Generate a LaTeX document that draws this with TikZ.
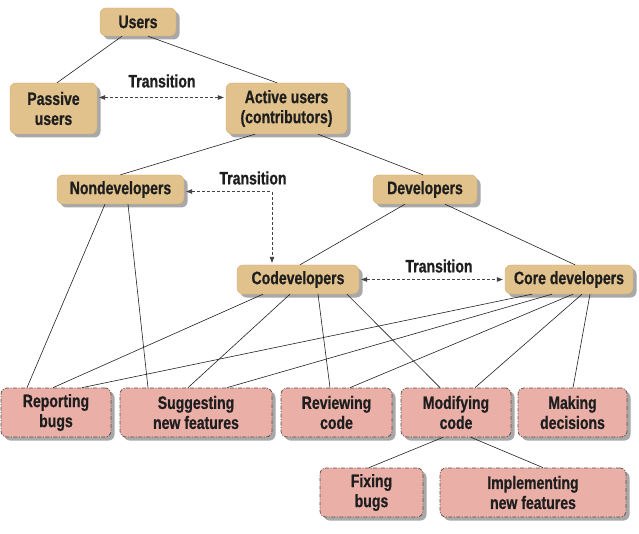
\documentclass[tikz,border=0pt]{standalone}
\usepackage{fontspec}
\setmainfont[FakeStretch=0.78, BoldFeatures={FakeBold=0.7}]{Liberation Sans}
\usetikzlibrary{shadows,arrows.meta}
\definecolor{tanc}{HTML}{E2C28C}
\definecolor{tanedge}{HTML}{D2AE72}
\definecolor{pinkc}{HTML}{EAB0A8}
\definecolor{dashc}{HTML}{5A4A48}
\definecolor{shadowc}{HTML}{A8A8A8}
\definecolor{txt}{HTML}{1E1E1E}
\definecolor{linec}{HTML}{222222}
\definecolor{transc}{HTML}{444444}
\begin{document}
\begin{tikzpicture}[x=1pt,y=-1pt,
  base/.style={rounded corners=6pt, inner sep=0pt, align=center,
    font=\fontsize{18}{20}\selectfont\bfseries, text=txt,
    drop shadow={shadow xshift=3.5pt,shadow yshift=-3.5pt,fill=shadowc,opacity=1}},
  role/.style={base, fill=tanc, draw=tanedge, line width=0.4pt},
  task/.style={base, fill=pinkc, draw=dashc, line width=0.7pt,
    dash pattern=on 4pt off 1.5pt on 1pt off 1.5pt},
  link/.style={draw=linec, line width=0.6pt},
  trans/.style={draw=transc, line width=0.6pt, dash pattern=on 3pt off 2pt,
    {Triangle[length=6pt,width=4.5pt]}-{Triangle[length=6pt,width=4.5pt]},
    shorten <=2pt, shorten >=2pt},
  lbl/.style={font=\fontsize{18}{20}\selectfont\bfseries, text=txt, inner sep=0pt}
]
\useasboundingbox[fill=white] (0,0) rectangle (639,534);

% role nodes
\node[role, minimum width=76pt, minimum height=28pt] (users) at (138,22) {Users};
\node[role, minimum width=87pt, minimum height=51pt] (passive) at (53.5,108.5) {Passive\\users};
\node[role, minimum width=121pt, minimum height=51pt] (active) at (286.5,108.5) {Active users\\(contributors)};
\node[role, minimum width=127pt, minimum height=29pt] (nondev) at (120.5,189.5) {Nondevelopers};
\node[role, minimum width=104pt, minimum height=29pt] (dev) at (425,189.5) {Developers};
\node[role, minimum width=122pt, minimum height=29pt] (codev) at (298,279.5) {Codevelopers};
\node[role, minimum width=128pt, minimum height=29pt] (core) at (569,279.5) {Core developers};

% task nodes
\node[task, minimum width=110pt, minimum height=49pt] (reporting) at (56,412.5) {Reporting\\bugs};
\node[task, minimum width=152pt, minimum height=49pt] (suggesting) at (196,412.5) {Suggesting\\new features};
\node[task, minimum width=111pt, minimum height=49pt] (reviewing) at (336.5,412.5) {Reviewing\\code};
\node[task, minimum width=110pt, minimum height=49pt] (modifying) at (456,412.5) {Modifying\\code};
\node[task, minimum width=109pt, minimum height=49pt] (making) at (572.5,412.5) {Making\\decisions};
\node[task, minimum width=103pt, minimum height=49pt] (fixing) at (371.5,492.5) {Fixing\\bugs};
\node[task, minimum width=186pt, minimum height=49pt] (implementing) at (533,492.5) {Implementing\\new features};

% hierarchy links
\draw[link] ([xshift=-16pt]users.south) -- ([xshift=3.5pt]passive.north);
\draw[link] ([xshift=10pt]users.south) -- ([xshift=-9.5pt]active.north);
\draw[link] ([xshift=-31.5pt]active.south) -- (nondev.north);
\draw[link] ([xshift=31.5pt]active.south) -- ([xshift=-2pt]dev.north);
\draw[link] ([xshift=-20pt]dev.south) -- ([xshift=2pt]codev.north);
\draw[link] ([xshift=20pt]dev.south) -- ([xshift=6pt]core.north);

\draw[link] ([xshift=-15.5pt]nondev.south) -- ([xshift=-29pt]reporting.north);
\draw[link] ([xshift=7.5pt]nondev.south) -- ([xshift=-48pt]suggesting.north);

\draw[link] ([xshift=-35pt]codev.south) -- ([xshift=-3pt]reporting.north);
\draw[link] ([xshift=-8pt]codev.south) -- ([xshift=-8pt]suggesting.north);
\draw[link] ([xshift=20pt]codev.south) -- ([xshift=-6.5pt]reviewing.north);
\draw[link] ([xshift=49pt]codev.south) -- ([xshift=-16pt]modifying.north);

\draw[link] ([xshift=-37pt]core.south) -- ([xshift=26pt]reporting.north);
\draw[link] ([xshift=-17pt]core.south) -- ([xshift=31pt]suggesting.north);
\draw[link] ([xshift=4pt]core.south) -- ([xshift=13.5pt]reviewing.north);
\draw[link] ([xshift=13pt]core.south) -- ([xshift=19pt]modifying.north);
\draw[link] ([xshift=21pt]core.south) -- ([xshift=0.5pt]making.north);

\draw[link] ([xshift=-13pt]modifying.south) -- ([xshift=-2.5pt]fixing.north);
\draw[link] ([xshift=15pt]modifying.south) -- ([xshift=10pt]implementing.north);

% transitions
\draw[trans] ([yshift=11pt]passive.east) -- ([yshift=11pt]active.west);
\node[lbl] (t1) at (162,81) {Transition};
\draw[trans] ([yshift=-2pt]nondev.east) -| ([xshift=-26pt]codev.north);
\node[lbl] (t2) at (253,178) {Transition};
\draw[trans] (codev.east) -- (core.west);
\node[lbl] (t3) at (439,266) {Transition};
\end{tikzpicture}
\end{document}
